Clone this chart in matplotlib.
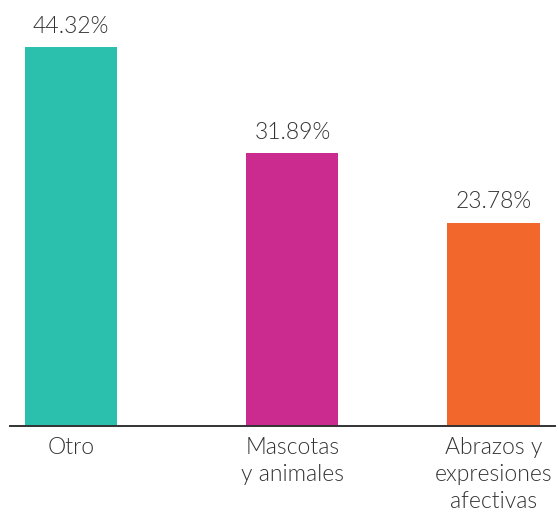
import matplotlib.pyplot as plt

categories = ['Otro', 'Mascotas\ny animales', 'Abrazos y\nexpresiones\nafectivas']
values = [44.32, 31.89, 23.78]
value_labels = ['44.32%', '31.89%', '23.78%']
colors = ['#2bbfad', '#cb2a8f', '#f2672b']


def main():
    plt.rcParams['font.family'] = ['Lato', 'DejaVu Sans']
    fig = plt.figure(figsize=(5.59, 5.13), dpi=100)
    ax = fig.add_axes([10 / 559, 87 / 513, 545 / 559, 426 / 513])

    # bars are not evenly spaced in the original
    pos = [0, 1.102, 2.102]
    ax.bar(pos, values, width=0.458, color=colors)
    for x, v, lab in zip(pos, values, value_labels):
        ax.text(x, v + 1.2, lab, ha='center', va='bottom', fontsize=16.5,
                fontweight=300, color='#333333')

    ax.set_xlim(-0.303, 2.408)
    ax.set_ylim(0, 49.8)
    ax.set_xticks(pos)
    ax.set_xticklabels(categories, fontsize=16.5, fontweight=300,
                       color='#333333', linespacing=1.35, va='top')
    ax.tick_params(axis='x', length=0, pad=8)
    ax.set_yticks([])
    for s in ['top', 'left', 'right']:
        ax.spines[s].set_visible(False)
    ax.spines['bottom'].set_color('#333333')
    ax.spines['bottom'].set_linewidth(1.4)

    fig.savefig('out.png', dpi=100)


if __name__ == "__main__":
    main()
